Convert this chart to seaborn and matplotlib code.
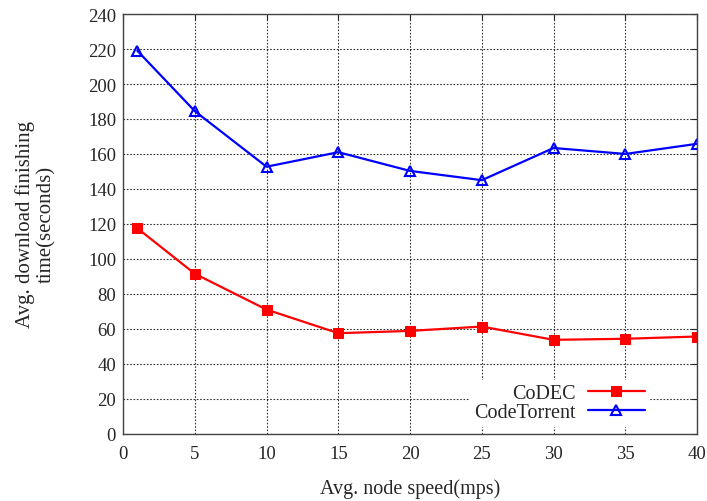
import numpy as np
import pandas as pd
import matplotlib
matplotlib.use('Agg')
import matplotlib.pyplot as plt
import seaborn as sns

# values
speed = [1, 5, 10, 15, 20, 25, 30, 35, 40]
codec = [117.5, 91.5, 71, 57.5, 58.8, 61.3, 53.7, 54.3, 55.6]
codetorrent = [219, 184.5, 152.7, 161, 150.3, 145, 163.4, 160, 165.8]
x_ticks = [0, 5, 10, 15, 20, 25, 30, 35, 40]
y_ticks = list(range(0, 241, 20))

sns.set_style("white")
plt.rcParams['font.family'] = ['Liberation Serif', 'DejaVu Serif']
plt.rcParams['font.size'] = 13.5

fig = plt.figure(figsize=(7.07, 5.02), dpi=100)
ax = fig.add_axes([0.174, 0.134, 0.812, 0.836])

df = pd.DataFrame({'speed': speed, 'CoDEC': codec, 'CodeTorrent': codetorrent})

sns.lineplot(data=df, x='speed', y='CoDEC', ax=ax, color='red', lw=1.6,
             marker='s', markersize=6.5, markeredgecolor='red', label='CoDEC')
sns.lineplot(data=df, x='speed', y='CodeTorrent', ax=ax, color='blue', lw=1.6,
             marker='^', markersize=6.5, markerfacecolor='none',
             markeredgecolor='blue', markeredgewidth=1.5, label='CodeTorrent')

ax.set_xlim(0, 40)
ax.set_ylim(0, 240)
ax.set_xticks(x_ticks)
ax.set_yticks(y_ticks)
ax.grid(True, color='black', linestyle=(0, (1.5, 1.5)), linewidth=0.8, alpha=0.8)
ax.tick_params(direction='in', length=4, top=True, right=True, labelsize=13.5)
ax.tick_params(axis='y', pad=5)
ax.tick_params(axis='x', pad=8)
for s in ax.spines.values():
    s.set_color('#444444')
    s.set_linewidth(1.0)

ax.set_xlabel('Avg. node speed(mps)', fontsize=14.5, labelpad=12)
ax.set_ylabel('Avg. download finishing\ntime(seconds)', fontsize=15,
              linespacing=1.1, multialignment='center')
ax.yaxis.set_label_coords(-0.117, 0.5)

leg = ax.legend(loc='lower right', bbox_to_anchor=(0.934, -0.006), markerfirst=False,
                frameon=True, fontsize=14.5, handlelength=2.85, labelspacing=0.0,
                borderpad=0.2, handletextpad=0.6)
leg.get_frame().set_edgecolor('white')
leg.get_frame().set_facecolor('white')
leg.get_frame().set_alpha(1.0)
leg.get_frame().set_boxstyle('square', pad=0)
for t in leg.get_texts():
    t.set_ha('right')

fig.savefig('out.png', dpi=100)
